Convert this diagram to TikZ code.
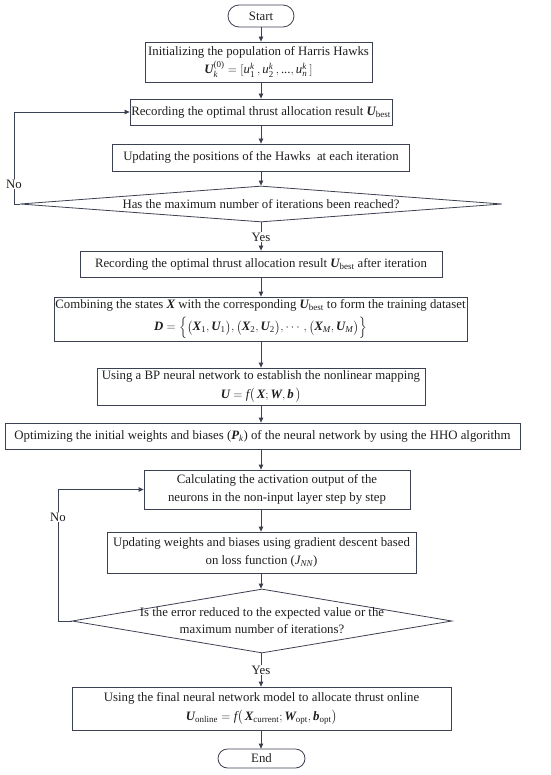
\documentclass[tikz,border=0pt]{standalone}
\usepackage{amsmath}
\usepackage{fontspec}
\setmainfont{Liberation Serif}
\usetikzlibrary{arrows.meta,shapes.geometric}
\definecolor{lc}{RGB}{60,65,82}
\definecolor{tc}{RGB}{30,30,30}
\newcommand{\bv}[1]{\text{\bfseries\itshape #1}}
\newcommand{\iv}[1]{\text{\itshape #1}}
\newcommand{\rs}[1]{\text{\upshape\mdseries #1}}
\begin{document}
\begin{tikzpicture}[x=1pt,y=-1pt,
  every node/.style={text=tc, font=\fontsize{12.8}{17.5}\selectfont},
  box/.style={draw=lc, line width=0.8pt, align=center, inner sep=0.5pt},
  term/.style={draw=lc, line width=0.8pt, rounded corners=#1, inner sep=0pt},
  dia/.style={draw=lc, line width=0.8pt, diamond, inner sep=0pt},
  lbl/.style={fill=white, inner sep=1pt},
  arr/.style={draw=lc, line width=0.8pt, -{Triangle[length=5pt,width=4.5pt]}},
  ln/.style={draw=lc, line width=0.8pt}]
\useasboundingbox (0,0) rectangle (550,775);
\coordinate (ax) at (261,0);
\coordinate (l1) at (14,0);
\coordinate (l2) at (58,0);

\node[term=11pt, minimum width=66pt, minimum height=22pt] (start) at (261,16) {Start};
\node[box, minimum width=227pt, minimum height=40pt] (b1) at (258.5,62)
  {Initializing the population of Harris Hawks\\[1pt] $\bv{U}_{\iv{k}}^{\rs{(0)}}=[\iv{u}_{\rs{1}}^{\iv{k}}\,,\iv{u}_{\rs{2}}^{\iv{k}}\,,\rs{...},\iv{u}_{\iv{n}}^{\iv{k}}\,]$};
\node[box, minimum width=262pt, minimum height=26pt] (b2) at (261,112)
  {Recording the optimal thrust allocation result $\bv{U}_{\rs{best}}$};
\node[box, minimum width=297pt, minimum height=27pt] (b3) at (261,157.5)
  {Updating the positions of the Hawks\ \ at each iteration};
\node[dia, minimum width=482pt, minimum height=36pt] (d1) at (261,204) {};
\node (d1t) at (261,204) {Has the maximum number of iterations been reached?};
\node[box, minimum width=362pt, minimum height=26pt] (b4) at (261,264)
  {Recording the optimal thrust allocation result $\bv{U}_{\rs{best}}$ after iteration};
\node[box, minimum width=413pt, minimum height=44pt] (b5) at (260.5,319)
  {Combining the states $\bv{X}$ with the corresponding $\bv{U}_{\rs{best}}$ to form the training dataset\\[5pt]
   $\bv{D}=\Bigl\{\bigl(\bv{X}_{\rs{1}},\bv{U}_{\rs{1}}\bigr),\bigl(\bv{X}_{\rs{2}},\bv{U}_{\rs{2}}\bigr),\cdots,\bigl(\bv{X}_{\iv{M}},\bv{U}_{\iv{M}}\bigr)\Bigr\}$};
\node[box, minimum width=328pt, minimum height=37pt] (b6) at (261,386.5)
  {Using a BP neural network to establish the nonlinear mapping\\[1pt] $\bv{U}=\iv{f}\bigl(\,\bv{X};\bv{W},\bv{b}\,\bigr)$};
\node[box, minimum width=515pt, minimum height=26pt] (b7) at (262.5,436)
  {Optimizing the initial weights and biases ($\bv{P}_{\iv{k}}$) of the neural network by using the HHO algorithm};
\node[box, minimum width=266pt, minimum height=39pt] (b8) at (277,489.5)
  {Calculating the activation output of the\\ neurons in the non-input layer step by step};
\node[box, minimum width=309pt, minimum height=41pt] (b9) at (261.5,552.5)
  {Updating weights and biases using gradient descent based\\ on loss function ($\iv{J}_{\iv{NN}}$)};
\node[dia, minimum width=380pt, minimum height=64pt] (d2) at (262,621) {};
\node[align=center] (d2t) at (262,620.5) {Is the error reduced to the expected value or the\\ maximum number of iterations?};
\node[box, minimum width=379pt, minimum height=43pt] (b10) at (261.5,708.5)
  {Using the final neural network model to allocate thrust online\\[2pt]
   $\bv{U}_{\rs{online}}=\iv{f}\bigl(\,\bv{X}_{\rs{current}};\bv{W}_{\rs{opt}},\bv{b}_{\rs{opt}}\bigr)$};
\node[term=9.5pt, minimum width=87pt, minimum height=19pt] (end) at (261.5,758.5) {End};

\draw[arr] (start.south -| ax) -- (b1.north -| ax);
\draw[arr] (b1.south -| ax) -- (b2.north -| ax);
\draw[arr] (b2.south -| ax) -- (b3.north -| ax);
\draw[arr] (b3.south -| ax) -- (d1.north -| ax);
\draw[arr] (d1.south -| ax) -- (b4.north -| ax);
\draw[arr] (b4.south -| ax) -- (b5.north -| ax);
\draw[arr] (b5.south -| ax) -- (b6.north -| ax);
\draw[arr] (b6.south -| ax) -- (b7.north -| ax);
\draw[arr] (b7.south -| ax) -- (b8.north -| ax);
\draw[arr] (b8.south -| ax) -- (b9.north -| ax);
\draw[arr] (b9.south -| ax) -- (d2.north -| ax);
\draw[arr] (d2.south -| ax) -- (b10.north -| ax);
\draw[arr] (b10.south -| ax) -- (end.north -| ax);

\draw[arr] (d1.west) -- (d1.west -| l1) |- (b2.west);
\draw[arr] (d2.west) -- (d2.west -| l2) |- (b8.west);

\node[lbl] (no1) at (14,184) {No};
\node[lbl] (no2) at (58,517) {No};
\node[lbl] (yes1) at (261,237) {Yes};
\node[lbl] (yes2) at (261,670) {Yes};
\end{tikzpicture}
\end{document}
